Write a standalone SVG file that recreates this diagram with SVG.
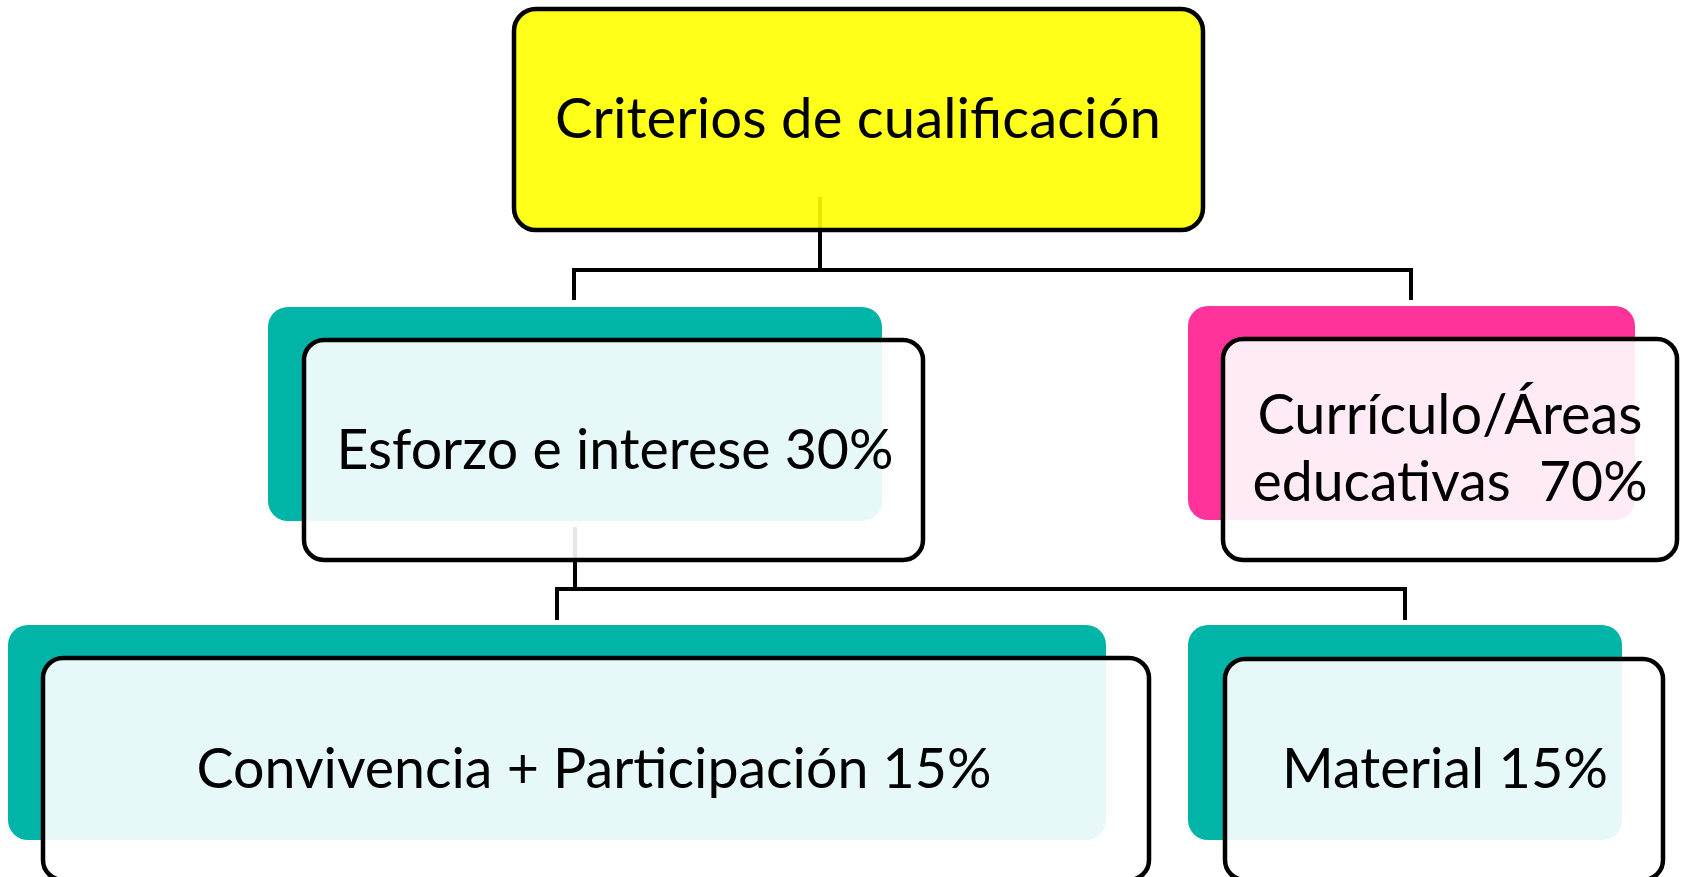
<svg xmlns="http://www.w3.org/2000/svg" width="1682" height="877" viewBox="0 0 1682 877">
<style>
.conn{fill:none;stroke:#000;stroke-width:4;stroke-linejoin:miter;stroke-linecap:butt}
.teal{fill:#00B4A8}
.pink{fill:#FF3399}
.front{fill:#fff;fill-opacity:0.9;stroke:#000;stroke-width:4.5}
.top{fill:#FFFF00;fill-opacity:0.9;stroke:#000;stroke-width:4.5}
.lbl{font-family:Lato,"Liberation Sans",sans-serif;font-size:56px;fill:#000;text-anchor:middle}
</style>
<rect width="1682" height="877" fill="#fff"/>
<g id="connectors">
<path class="conn" d="M820 197 V270 M574 300 V270 H1411 V300"/>
<path class="conn" d="M575 527 V589 M557 620 V589 H1405 V620"/>
</g>
<g id="node-criterios">
<rect class="top" x="514" y="9" width="689" height="221" rx="22"/>
<text class="lbl" x="858" y="138" textLength="606" lengthAdjust="spacingAndGlyphs">Criterios de cualificación</text>
</g>
<g id="node-esforzo">
<rect class="teal" x="268" y="307" width="614" height="214" rx="20"/>
<rect class="front" x="304" y="340" width="619" height="220" rx="20"/>
<text class="lbl" x="615" y="469" textLength="557" lengthAdjust="spacingAndGlyphs">Esforzo e interese 30%</text>
</g>
<g id="node-curriculo">
<rect class="pink" x="1188" y="306" width="447" height="214" rx="20"/>
<rect class="front" x="1223" y="339" width="454" height="221" rx="20"/>
<text class="lbl" x="1450" y="434" textLength="385" lengthAdjust="spacingAndGlyphs">Currículo/Áreas</text>
<text class="lbl" x="1450" y="501" textLength="395" lengthAdjust="spacingAndGlyphs" xml:space="preserve">educativas  70%</text>
</g>
<g id="node-convivencia">
<rect class="teal" x="8" y="625" width="1098" height="215" rx="20"/>
<rect class="front" x="43" y="658" width="1106" height="222" rx="20"/>
<text class="lbl" x="594" y="788" textLength="795" lengthAdjust="spacingAndGlyphs">Convivencia + Participación 15%</text>
</g>
<g id="node-material">
<rect class="teal" x="1188" y="625" width="434" height="215" rx="20"/>
<rect class="front" x="1225" y="659" width="438" height="221" rx="20"/>
<text class="lbl" x="1445" y="788" textLength="326" lengthAdjust="spacingAndGlyphs">Material 15%</text>
</g>
</svg>
